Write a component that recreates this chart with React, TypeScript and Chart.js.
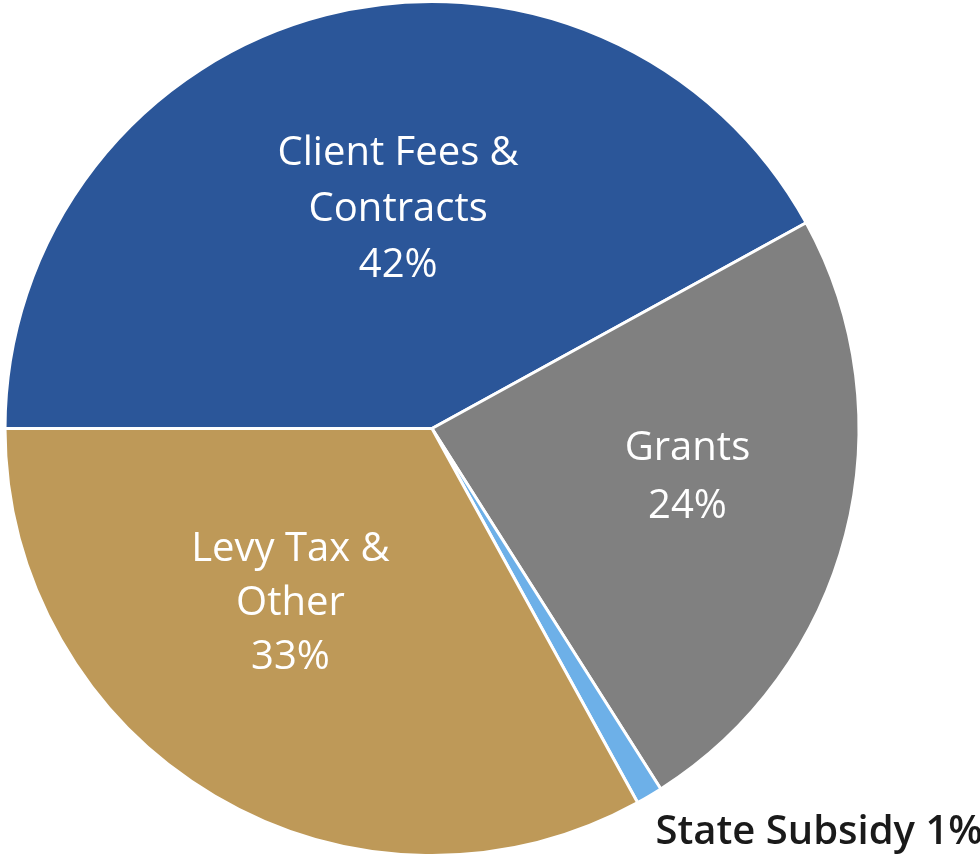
import React, { useEffect, useRef } from "react";
import { Chart, registerables } from "chart.js";

Chart.register(...registerables);

const categories = ["Client Fees & Contracts", "Grants", "State Subsidy", "Levy Tax & Other"];
const shares = [42, 24, 1, 33];
const labelLines = [
  ["Client Fees &", "Contracts", "42%"],
  ["Grants", "24%"],
  ["State Subsidy 1%"],
  ["Levy Tax &", "Other", "33%"],
];
const sliceColors = ["#2B5699", "#808080", "#6DB0E8", "#BE9958"];

// per-label placement relative to its arc: angle shift (deg), radial fraction, style
const labelPlacement = [
  { dAngle: 5.6, frac: 0.518, color: "#ffffff", font: "40px 'Open Sans'", lineH: 56 },
  { dAngle: -3.6, frac: 0.609, color: "#ffffff", font: "40px 'Open Sans'", lineH: 58 },
  { dAngle: -13.2, frac: 1.31, color: "#1a1a1a", font: "600 40px 'Open Sans'", lineH: 40 },
  { dAngle: 8.3, frac: 0.528, color: "#ffffff", font: "40px 'Open Sans'", lineH: 54 },
];

const sliceLabelPlugin = {
  id: "sliceLabels",
  afterDatasetsDraw(chart: any) {
    const ctx = chart.ctx;
    const meta = chart.getDatasetMeta(0);
    meta.data.forEach((arc: any, i: number) => {
      const p = labelPlacement[i];
      const lines = labelLines[i];
      const { x, y, startAngle, endAngle, outerRadius } = arc.getProps(
        ["x", "y", "startAngle", "endAngle", "outerRadius"],
        true
      );
      const mid = (startAngle + endAngle) / 2 + (p.dAngle * Math.PI) / 180;
      const r = outerRadius * p.frac;
      const cx = x + Math.cos(mid) * r;
      const cy = y + Math.sin(mid) * r;
      ctx.save();
      ctx.font = p.font;
      ctx.fillStyle = p.color;
      ctx.textAlign = "center";
      ctx.textBaseline = "middle";
      const total = (lines.length - 1) * p.lineH;
      lines.forEach((ln, k) => {
        ctx.fillText(ln, cx, cy - total / 2 + k * p.lineH);
      });
      ctx.restore();
    });
  },
};

export default function App() {
  const ref = useRef<HTMLCanvasElement | null>(null);
  useEffect(() => {
    document.body.style.margin = "0";
    const chart = new Chart(ref.current as HTMLCanvasElement, {
      type: "pie",
      data: {
        labels: categories,
        datasets: [
          {
            data: shares,
            backgroundColor: sliceColors,
            borderColor: "#ffffff",
            borderWidth: 3,
          },
        ],
      },
      options: {
        animation: false,
        responsive: false,
        rotation: 270,
        layout: { padding: { left: 2, right: 118, top: 0, bottom: 0 } },
        plugins: {
          legend: { display: false },
          tooltip: { enabled: false },
        },
      },
      plugins: [sliceLabelPlugin],
    });
    return () => chart.destroy();
  }, []);
  return (
    <div style={{ width: 980, height: 857, background: "#fff" }}>
      <canvas ref={ref} width={980} height={857} />
    </div>
  );
}
